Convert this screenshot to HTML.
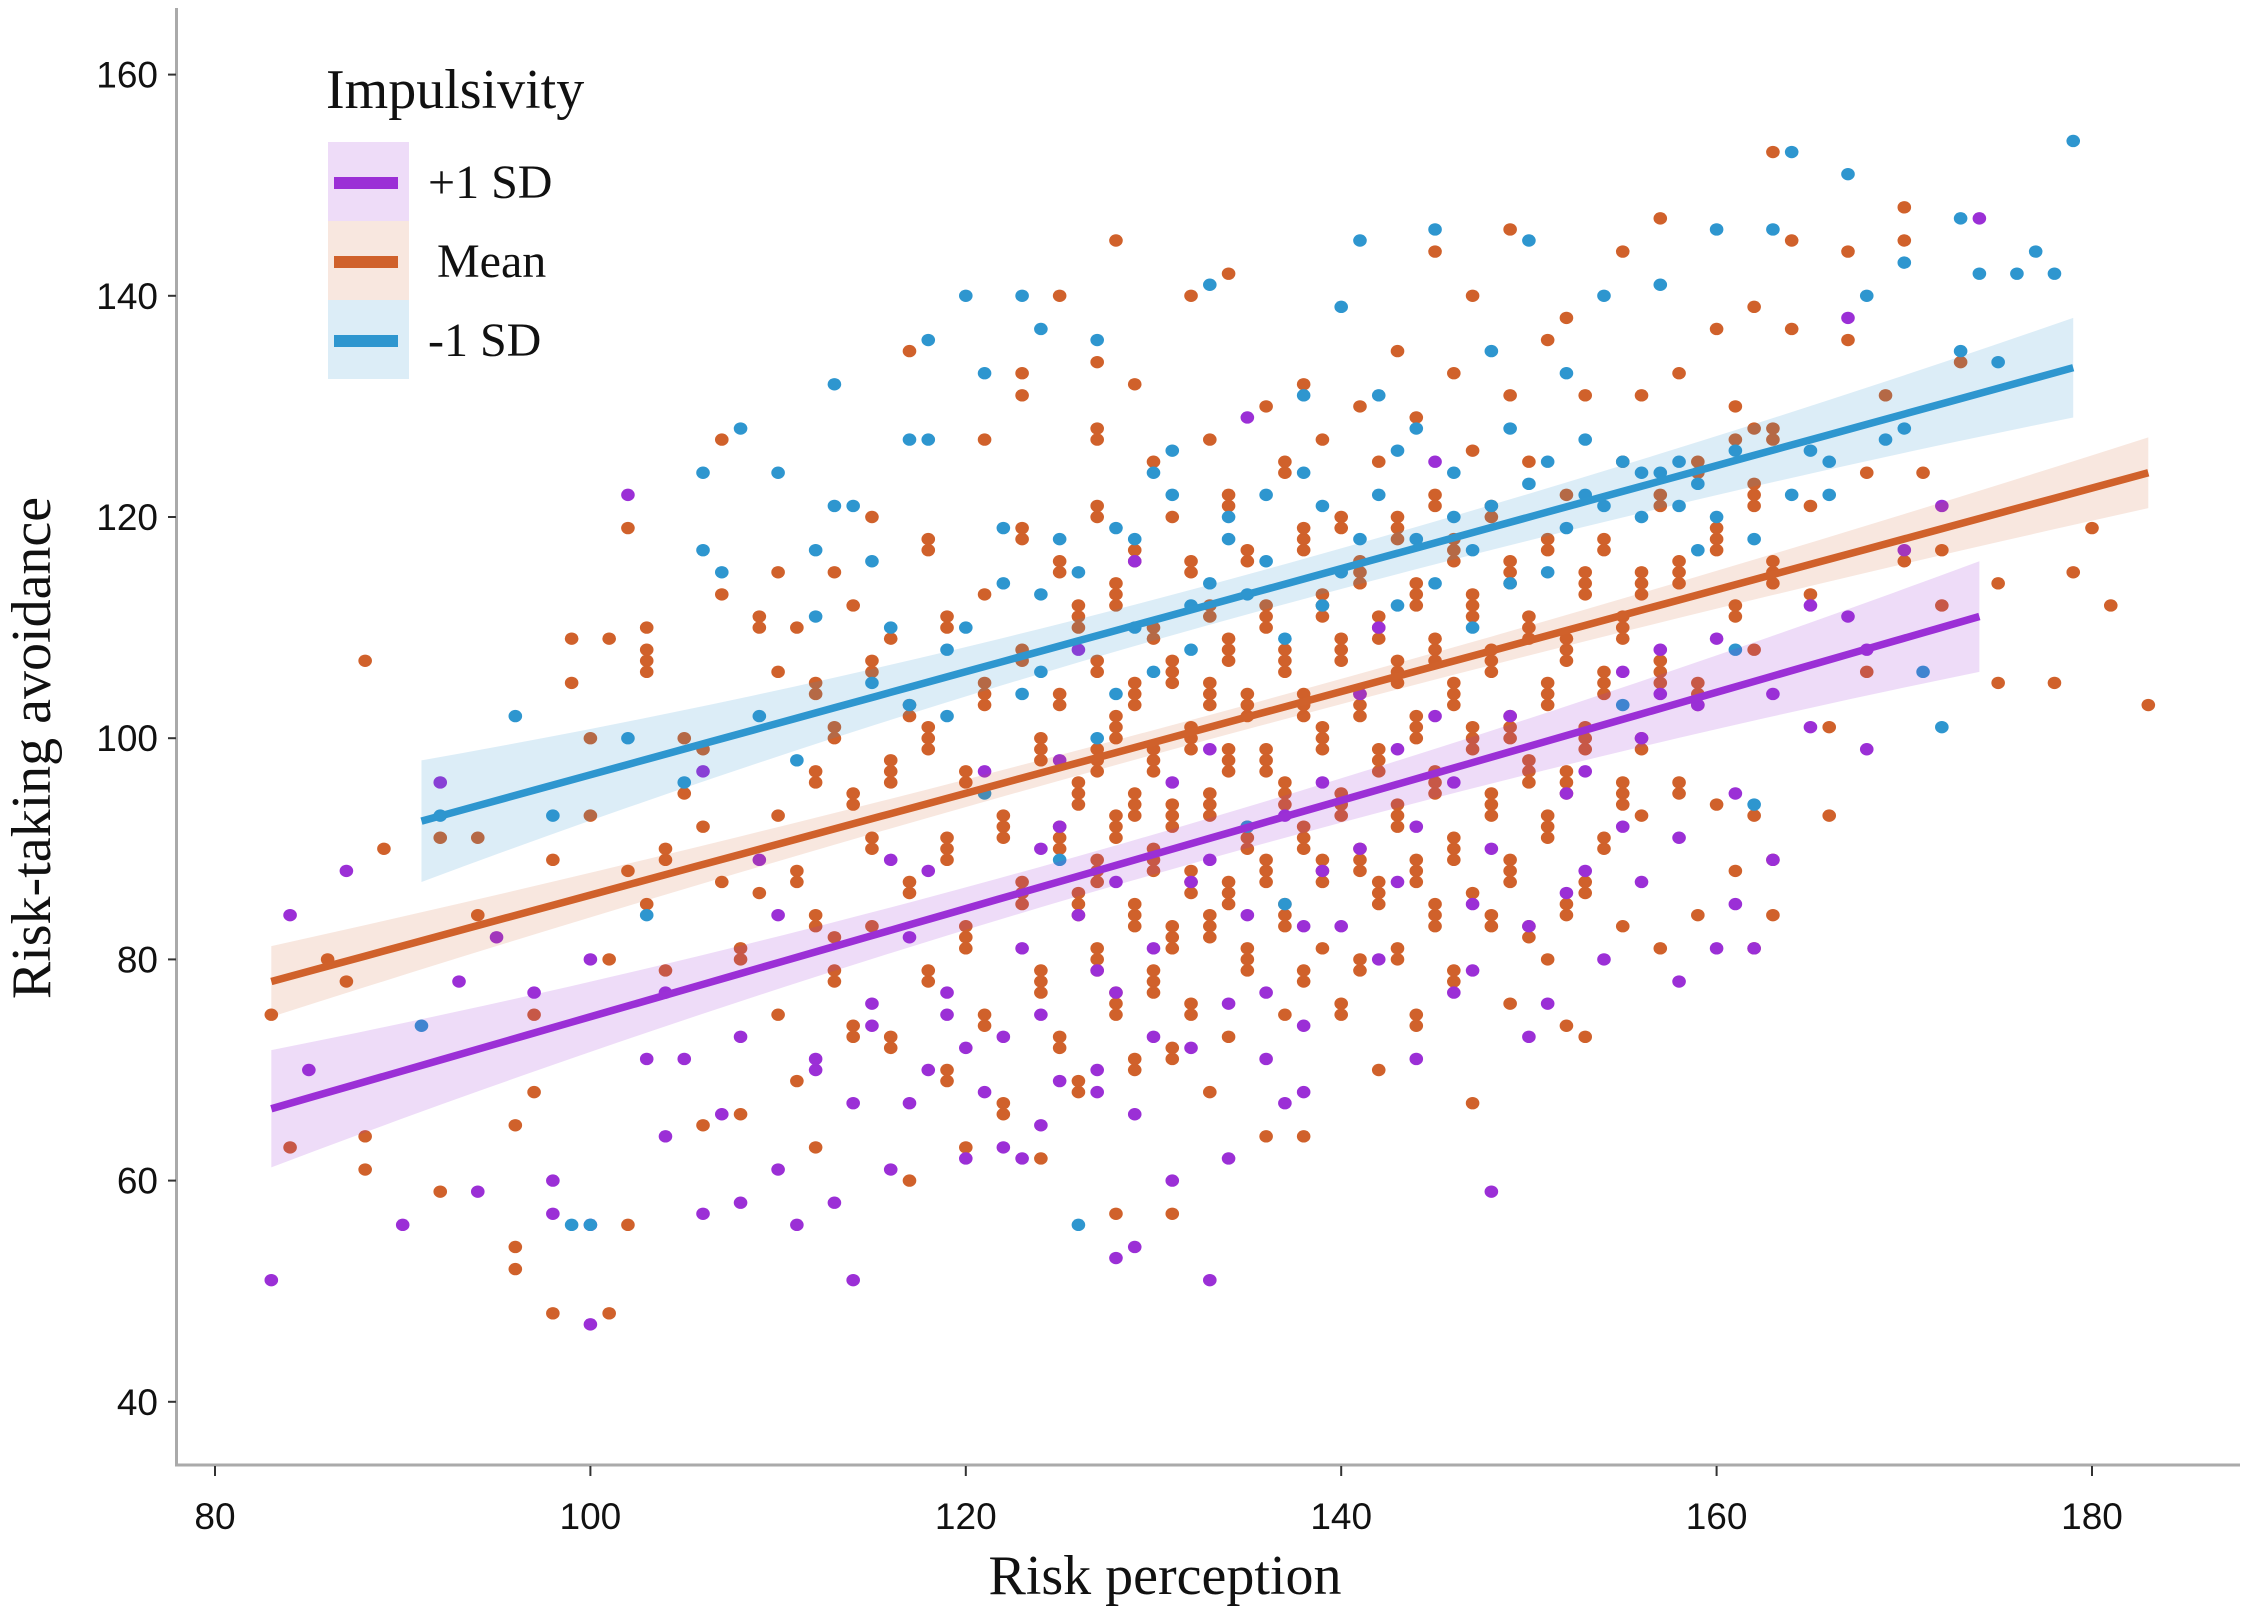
<!DOCTYPE html>
<html><head><meta charset="utf-8"><style>
html,body{margin:0;padding:0;background:#fff;}
svg{display:block;}
.tick{font-family:"Liberation Sans",sans-serif;font-size:37px;fill:#111;}
.serif{font-family:"Liberation Serif",serif;fill:#111;}
</style></head><body>
<svg id="chart" width="2250" height="1618" viewBox="0 0 2250 1618" xmlns="http://www.w3.org/2000/svg">
<g id="plot"></g>
<g id="axes"></g>
<g id="legend"></g>
</svg>
<script>
const xTicks=[80,100,120,140,160,180];
const yTicks=[40,60,80,100,120,140,160];
const seriesNames=["+1 SD","Mean","-1 SD"];
const meanPts=[[83,75],[84,63],[86,80],[87,78],[88,107],[88,64],[88,61],[89,90],[92,59],[92,91],[94,84],[94,91],[96,54],[96,52],[96,65],[97,75],[97,68],[98,48],[98,89],[99,105],[99,109],[100,100],[100,93],[101,48],[101,80],[101,109],[102,56],[102,119],[102,88],[103,107],[103,85],[104,89],[104,79],[105,95],[106,92],[106,65],[107,127],[107,113],[108,80],[108,66],[109,111],[109,86],[110,115],[110,93],[110,75],[111,110],[111,88],[111,69],[112,104],[112,96],[112,83],[112,63],[113,115],[113,101],[113,78],[114,112],[114,94],[114,73],[115,120],[115,107],[115,90],[115,83],[116,109],[116,97],[116,72],[117,135],[117,103],[117,86],[117,60],[118,118],[118,100],[118,78],[119,110],[119,90],[119,70],[120,63],[120,82],[120,97],[121,127],[121,113],[121,104],[121,75],[122,92],[122,67],[123,133],[123,118],[123,108],[123,86],[124,99],[124,78],[124,62],[125,140],[125,116],[125,104],[125,91],[125,72],[126,111],[126,95],[126,85],[126,68],[127,134],[127,128],[127,120],[127,107],[127,98],[127,88],[127,80],[128,145],[128,113],[128,101],[128,92],[128,76],[128,57],[129,132],[129,117],[129,104],[129,94],[129,84],[129,70],[130,125],[130,110],[130,98],[130,89],[130,78],[131,120],[131,106],[131,93],[131,82],[131,71],[131,57],[132,140],[132,115],[132,100],[132,87],[132,75],[133,127],[133,112],[133,104],[133,94],[133,83],[133,68],[134,142],[134,122],[134,108],[134,98],[134,86],[134,73],[135,117],[135,103],[135,91],[135,80],[136,130],[136,111],[136,98],[136,88],[136,64],[137,124],[137,107],[137,95],[137,84],[137,75],[138,132],[138,118],[138,103],[138,91],[138,78],[138,64],[139,127],[139,112],[139,100],[139,88],[139,81],[140,120],[140,108],[140,94],[140,75],[141,130],[141,115],[141,103],[141,89],[141,79],[142,125],[142,110],[142,98],[142,86],[142,70],[143,135],[143,119],[143,106],[143,93],[143,80],[144,129],[144,113],[144,101],[144,88],[144,74],[145,144],[145,122],[145,108],[145,96],[145,84],[146,133],[146,117],[146,104],[146,90],[146,78],[147,140],[147,126],[147,112],[147,100],[147,67],[148,121],[148,107],[148,94],[148,83],[149,146],[149,131],[149,115],[149,101],[149,88],[149,76],[150,125],[150,110],[150,97],[150,82],[151,136],[151,118],[151,104],[151,92],[151,80],[152,138],[152,122],[152,108],[152,96],[152,84],[152,74],[153,131],[153,114],[153,100],[153,86],[153,73],[154,118],[154,105],[154,90],[155,144],[155,125],[155,110],[155,95],[155,83],[156,131],[156,114],[156,99],[156,93],[157,147],[157,121],[157,106],[157,81],[158,133],[158,115],[158,95],[159,125],[159,104],[159,84],[160,137],[160,118],[160,94],[161,130],[161,111],[161,88],[162,139],[162,122],[162,108],[162,93],[162,81],[163,153],[163,128],[163,115],[163,89],[163,84],[164,145],[164,137],[165,113],[165,121],[166,93],[166,101],[167,136],[167,144],[168,124],[168,106],[169,131],[170,148],[170,116],[170,145],[171,124],[172,112],[172,117],[173,134],[175,105],[175,114],[178,105],[179,115],[180,119],[181,112],[183,103],
[103,110],[103,108],[103,106],[104,90],[105,100],[106,99],[107,87],[108,81],[109,110],[110,106],[111,87],[112,105],[112,97],[112,84],[113,100],[113,79],[113,82],[114,95],[114,74],[115,106],[115,91],[116,98],[116,73],[116,96],[117,102],[117,87],[118,117],[118,101],[118,99],[118,79],[119,111],[119,91],[119,89],[119,69],[120,96],[120,83],[120,81],[121,105],[121,103],[121,74],[122,93],[122,91],[122,66],[123,131],[123,119],[123,107],[123,85],[123,87],[124,100],[124,98],[124,77],[124,79],[125,115],[125,103],[125,92],[125,90],[125,73],[126,112],[126,110],[126,96],[126,94],[126,84],[126,86],[126,69],[127,127],[127,121],[127,106],[127,99],[127,97],[127,89],[127,87],[127,81],[127,79],[128,114],[128,112],[128,102],[128,100],[128,93],[128,91],[128,77],[128,75],[129,116],[129,105],[129,103],[129,95],[129,93],[129,85],[129,83],[129,71],[130,109],[130,99],[130,97],[130,90],[130,88],[130,79],[130,77],[131,107],[131,105],[131,94],[131,92],[131,83],[131,81],[131,72],[132,116],[132,101],[132,99],[132,88],[132,86],[132,76],[133,111],[133,105],[133,103],[133,95],[133,93],[133,84],[133,82],[134,121],[134,109],[134,107],[134,99],[134,97],[134,87],[134,85],[135,116],[135,104],[135,102],[135,92],[135,90],[135,81],[135,79],[136,112],[136,110],[136,99],[136,97],[136,89],[136,87],[137,125],[137,108],[137,106],[137,96],[137,94],[137,85],[137,83],[138,119],[138,117],[138,104],[138,102],[138,92],[138,90],[138,79],[139,113],[139,111],[139,101],[139,99],[139,89],[139,87],[140,119],[140,109],[140,107],[140,95],[140,93],[140,76],[141,116],[141,114],[141,104],[141,102],[141,90],[141,88],[141,80],[142,111],[142,109],[142,99],[142,97],[142,87],[142,85],[143,120],[143,118],[143,107],[143,105],[143,94],[143,92],[143,81],[144,114],[144,112],[144,102],[144,100],[144,89],[144,87],[144,75],[145,121],[145,109],[145,107],[145,97],[145,95],[145,85],[145,83],[146,118],[146,116],[146,105],[146,103],[146,91],[146,89],[146,79],[147,113],[147,111],[147,101],[147,99],[147,86],[148,120],[148,108],[148,106],[148,95],[148,93],[148,84],[149,116],[149,114],[149,102],[149,100],[149,89],[149,87],[150,111],[150,109],[150,98],[150,96],[150,83],[151,117],[151,105],[151,103],[151,93],[151,91],[152,109],[152,107],[152,97],[152,95],[152,85],[153,115],[153,113],[153,101],[153,99],[153,87],[154,117],[154,106],[154,104],[154,91],[155,111],[155,109],[155,96],[155,94],[156,115],[156,113],[156,100],[157,122],[157,107],[157,105],[158,116],[158,114],[158,96],[159,124],[159,105],[159,103],[160,119],[160,117],[161,127],[161,112],[162,128],[162,123],[162,121],[163,127],[163,116],[163,114]];
const plusPts=[[83,51],[84,84],[85,70],[87,88],[90,56],[92,96],[93,78],[94,59],[95,82],[97,77],[98,57],[98,60],[100,80],[100,56],[100,47],[102,122],[103,71],[104,64],[104,77],[106,57],[106,97],[107,66],[108,58],[109,89],[110,84],[111,56],[112,70],[113,58],[114,51],[115,76],[116,61],[117,67],[118,88],[119,77],[120,62],[121,97],[122,73],[123,62],[124,90],[125,69],[125,98],[126,108],[127,79],[128,53],[128,77],[129,54],[129,116],[130,73],[131,60],[132,87],[133,51],[133,99],[134,62],[135,129],[136,77],[137,67],[138,83],[138,68],[139,96],[141,90],[142,110],[143,87],[144,71],[145,125],[146,96],[147,79],[148,59],[150,83],[151,76],[152,95],[153,88],[154,80],[155,92],[156,87],[157,108],[158,78],[159,103],[160,81],[161,95],[162,81],[163,104],[165,101],[167,138],[168,108],[168,99],[170,117],[172,121],[174,147],
[105,71],[108,73],[110,61],[112,71],[114,67],[115,74],[116,89],[117,82],[118,70],[119,75],[120,72],[121,68],[122,63],[123,81],[124,75],[124,65],[125,92],[126,84],[127,70],[127,68],[128,87],[129,66],[130,81],[131,96],[132,72],[133,89],[134,76],[135,84],[136,71],[137,93],[138,74],[139,88],[140,83],[141,104],[142,80],[143,99],[144,92],[145,102],[146,77],[147,85],[148,90],[149,102],[150,73],[152,86],[153,97],[155,106],[156,100],[157,104],[158,91],[160,109],[161,85],[163,89],[165,112],[167,111]];
const minusPts=[[91,74],[92,93],[96,102],[98,93],[99,56],[100,56],[102,100],[103,84],[105,96],[106,124],[106,117],[107,115],[108,128],[109,102],[110,124],[111,98],[112,117],[113,132],[113,121],[114,121],[115,116],[116,110],[117,127],[118,136],[118,127],[119,102],[120,140],[121,133],[122,119],[123,140],[124,137],[124,106],[125,89],[126,56],[127,136],[128,119],[129,110],[130,124],[131,122],[132,112],[133,141],[134,118],[135,92],[136,122],[137,85],[138,131],[139,112],[140,139],[141,145],[142,131],[143,126],[144,118],[145,146],[146,120],[147,110],[148,135],[149,128],[150,145],[151,115],[152,133],[153,122],[154,140],[155,103],[156,124],[157,141],[158,125],[159,117],[160,146],[161,108],[162,94],[163,146],[164,153],[165,126],[166,122],[167,151],[168,140],[169,127],[170,143],[171,106],[172,101],[173,147],[175,134],[176,142],[177,144],[178,142],[179,154],
[112,111],[115,105],[117,103],[119,108],[120,110],[121,95],[122,114],[123,104],[124,113],[125,118],[126,115],[127,100],[128,104],[129,118],[130,106],[131,126],[132,108],[133,114],[134,120],[135,113],[136,116],[137,109],[138,124],[139,121],[140,115],[141,118],[142,122],[143,112],[144,128],[145,114],[146,124],[147,117],[148,121],[149,114],[150,123],[151,125],[152,119],[153,127],[154,121],[155,125],[156,120],[157,124],[158,121],[159,123],[160,120],[161,126],[162,118],[164,122],[166,125],[170,128],[173,135],[174,142]];
// fitted lines: [xStart, yStart, xEnd, yEnd]
const plusFit=[83,66.5,174,111];
const meanFit=[83,78,183,124];
const minusFit=[91,92.5,179,133.5];
// CI half-widths: [at start, at middle, at end]
const plusCI=[5.3,1.8,5];
const meanCI=[3.2,1.1,3.2];
const minusCI=[5.5,1.8,4.5];

const NS="http://www.w3.org/2000/svg";
const X=v=>215+(v-80)*18.77;
const Y=v=>74.6+(160-v)*11.06;
function mk(tag,attrs,parent){const e=document.createElementNS(NS,tag);for(const k in attrs)e.setAttribute(k,attrs[k]);parent.appendChild(e);return e;}
const plot=document.getElementById('plot'),axes=document.getElementById('axes'),legend=document.getElementById('legend');
const cols={plus:"#9b2fd6",mean:"#d0612b",minus:"#2e96cf"};
const fills={plus:"rgba(155,47,214,0.17)",mean:"rgba(208,97,43,0.15)",minus:"rgba(46,150,207,0.17)"};

function drawPts(pts,c,name){for(const p of pts){const e=mk('ellipse',{cx:X(p[0]),cy:Y(p[1]),rx:6.8,ry:6.2,fill:c},plot);

}}
drawPts(meanPts,cols.mean,'mean');
drawPts(plusPts,cols.plus,'plus-1sd');
drawPts(minusPts,cols.minus,'minus-1sd');

function drawFit(f,ci,c,fc,name){const n=40,up=[],lo=[],ln=[];
for(let i=0;i<=n;i++){const t=i/n,x=f[0]+(f[2]-f[0])*t,y=f[1]+(f[3]-f[1])*t;
const u=2*t-1;const w=ci[1]+(u<0?(ci[0]-ci[1]):(ci[2]-ci[1]))*u*u;
up.push(X(x)+','+Y(y+w));lo.unshift(X(x)+','+Y(y-w));ln.push(X(x)+','+Y(y));}
const r=mk('polygon',{points:up.concat(lo).join(' '),fill:fc},plot);


const l=mk('polyline',{points:ln.join(' '),fill:'none',stroke:c,'stroke-width':7.5,'stroke-linecap':'butt'},plot);

}
drawFit(plusFit,plusCI,cols.plus,fills.plus,'plus-1sd');
drawFit(meanFit,meanCI,cols.mean,fills.mean,'mean');
drawFit(minusFit,minusCI,cols.minus,fills.minus,'minus-1sd');

// axes
let a=mk('line',{x1:176.5,y1:8,x2:176.5,y2:1465,stroke:'#aaa','stroke-width':3},axes);

a=mk('line',{x1:175,y1:1465,x2:2240,y2:1465,stroke:'#aaa','stroke-width':3},axes);

for(const t of yTicks){const y=Y(t);
const tk=mk('line',{x1:168,y1:y,x2:176,y2:y,stroke:'#333','stroke-width':2},axes);

const tx=mk('text',{x:158,y:y+13,'text-anchor':'end',class:'tick'},axes);tx.textContent=t;
}
for(const t of xTicks){const x=X(t);
const tk=mk('line',{x1:x,y1:1466,x2:x,y2:1476,stroke:'#333','stroke-width':2},axes);

const tx=mk('text',{x:x,y:1529,'text-anchor':'middle',class:'tick'},axes);tx.textContent=t;
}
let tt=mk('text',{x:1165,y:1594,'text-anchor':'middle',class:'serif','font-size':56},axes);tt.textContent='Risk perception';

tt=mk('text',{x:0,y:0,'text-anchor':'middle',class:'serif','font-size':56,transform:'translate(50,748) rotate(-90)'},axes);tt.textContent='Risk-taking avoidance';


// legend
tt=mk('text',{x:326,y:108,class:'serif','font-size':56},legend);tt.textContent='Impulsivity';

const keys=['plus','mean','minus'],lt=[142,221,300];
keys.forEach((k,i)=>{const y0=lt[i];
const b=mk('rect',{x:328,y:y0,width:81,height:79,fill:fills[k]},legend);

const l=mk('rect',{x:334,y:y0+35,width:64,height:12,fill:cols[k]},legend);

const tx=mk('text',{x:k==='mean'?437:428,y:y0+56,class:'serif','font-size':48},legend);tx.textContent=seriesNames[i];
});
</script>
</body></html>
